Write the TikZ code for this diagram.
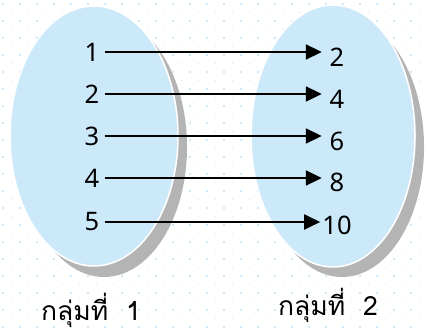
\documentclass[tikz,border=0pt]{standalone}
\usepackage{fontspec}
\setmainfont{Noto Sans}
\newfontfamily\thaifont[Script=Thai]{Loma}
\usetikzlibrary{arrows.meta}
\definecolor{setblue}{RGB}{204,233,250}
\definecolor{dotblue}{RGB}{205,232,250}
\definecolor{shadowgray}{RGB}{180,180,180}
\tikzset{
  setfill/.style={fill=setblue,draw=white,line width=1.5pt},
  setshadow/.style={fill=shadowgray,draw=none},
  lnum/.style={font=\fontsize{25.5}{28}\selectfont,inner sep=0pt,minimum width=15pt,anchor=center},
  rnum/.style={font=\fontsize{25.5}{28}\selectfont,inner sep=0pt,minimum width=26pt,anchor=center},
  maparrow/.style={line width=1.9pt,-{Triangle[length=16pt,width=15pt]},shorten >=2pt,shorten <=5pt},
  grouplabel/.style={font=\thaifont\fontsize{26.5}{30}\selectfont,inner sep=0pt,anchor=base west}
}
\begin{document}
\begin{tikzpicture}[x=1pt,y=-1pt]
\useasboundingbox (0,0) rectangle (427,331);
\fill[white] (0,0) rectangle (427,331);
% dotted background
\foreach \r in {0,...,39}{
  \pgfmathsetmacro{\yy}{4+\r*8.5}
  \pgfmathsetmacro{\off}{mod(\r,2)*8.5}
  \foreach \c in {0,...,25}{
    \fill[dotblue] ({3+\off+\c*17-0.8},{\yy-0.8}) rectangle ++(1.6,1.6);
  }
}
% shadows
\fill[setshadow] (104,147) ellipse [x radius=83, y radius=130];
\fill[setshadow] (342,147) ellipse [x radius=82, y radius=130];
% sets
\draw[setfill] (94,136) ellipse [x radius=84, y radius=130];
\draw[setfill] (333,136) ellipse [x radius=82, y radius=131];
% left numbers
\node[lnum] (l1) at (92,52) {1};
\node[lnum] (l2) at (92,94) {2};
\node[lnum] (l3) at (92,136) {3};
\node[lnum] (l4) at (92,178) {4};
\node[lnum] (l5) at (92,222) {5};
% right numbers
\node[rnum] (r1) at (337,57) {2};
\node[rnum] (r2) at (337,99) {4};
\node[rnum] (r3) at (337,141) {6};
\node[rnum] (r4) at (337,182) {8};
\node[rnum] (r5) at (337,225) {10};
% arrows
\foreach \i in {1,...,5}{
  \draw[maparrow] (l\i.east) -- (l\i.east -| r\i.west);
}
% group labels
\node[grouplabel] (g1) at (41,320) {กลุ่มที่ \ 1};
\node[grouplabel] (g2) at (278,315) {กลุ่มที่ \ 2};
\end{tikzpicture}
\end{document}
